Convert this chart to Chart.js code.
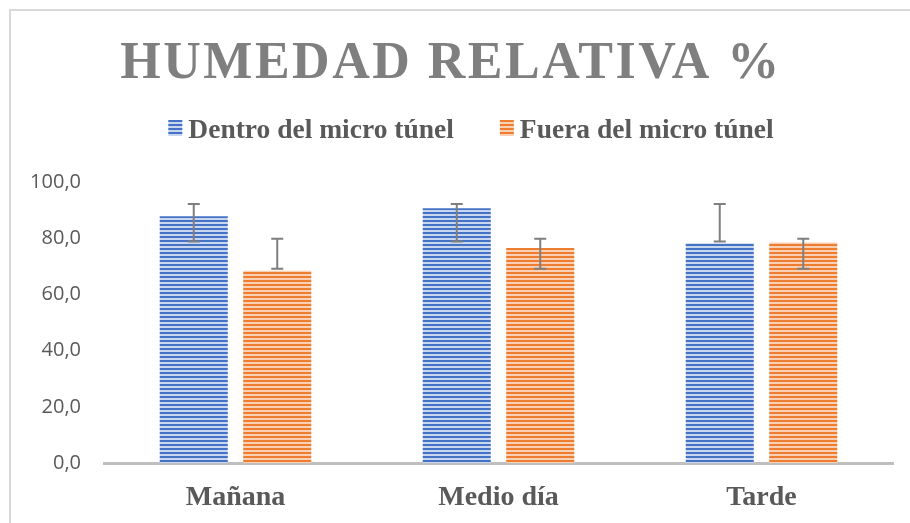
<!DOCTYPE html>
<html>
<head>
<meta charset="utf-8">
<script src="https://cdn.jsdelivr.net/npm/chart.js@4"></script>
<style>
  body { margin: 0; background: #fff; }
  #wrap { width: 910px; height: 523px; position: relative; }
</style>
</head>
<body>
<div id="wrap"><canvas id="chart" width="910" height="523"></canvas></div>
<script>
// Categories and series.
const categories = ['Mañana', 'Medio día', 'Tarde'];
const seriesNames = ['Dentro del micro túnel', 'Fuera del micro túnel'];
const dentro = [87.8, 90.7, 78.2];
const fuera = [68.4, 76.5, 78.5];
// Error bar ends (low / high) for each series.
const dentroLow = [78.8, 78.8, 78.8];
const dentroHigh = [92.2, 92.2, 92.2];
const fueraLow = [69.1, 69.1, 69.1];
const fueraHigh = [79.8, 79.8, 79.8];
const yTicks = [0, 20, 40, 60, 80, 100];

const titleText = 'HUMEDAD RELATIVA %';
const serif = '"Liberation Serif", "Times New Roman", serif';

// Horizontal stripe fill like the Excel pattern.
function makeStripes( dark, light ) {
    const c = document.createElement( 'canvas' );
    c.width = 4;
    c.height = 4;
    const g = c.getContext( '2d' );
    g.fillStyle = light;
    g.fillRect( 0, 0, 4, 4 );
    g.fillStyle = dark;
    g.fillRect( 0, 0, 4, 2 );
    return g.createPattern( c, 'repeat' );
}

const blueFill = makeStripes( '#4472C4', '#C9D6EF' );
const orangeFill = makeStripes( '#ED7D31', '#F9D0B3' );

// Frame around the whole chart.
const framePlugin = {
    id: 'frame',
    beforeDraw( chart ) {
        const ctx = chart.ctx;
        ctx.save();
        ctx.strokeStyle = '#D9D9D9';
        ctx.lineWidth = 2;
        ctx.strokeRect( 10, 10, chart.width + 10, chart.height + 10 );
        ctx.restore();
    }
};

// Letter-spaced title and the legend row (Excel style: small box, tight gap).
const headerPlugin = {
    id: 'header',
    afterDraw( chart ) {
        const ctx = chart.ctx;
        ctx.save();
        ctx.font = 'bold 52px ' + serif;
        ctx.letterSpacing = '2.5px';
        ctx.fillStyle = '#7F7F7F';
        ctx.textAlign = 'center';
        ctx.textBaseline = 'alphabetic';
        ctx.fillText( titleText, 451, 78 );
        ctx.restore();

        ctx.save();
        ctx.font = 'bold 27.5px ' + serif;
        ctx.textBaseline = 'alphabetic';
        const boxW = 14, boxH = 16, gap = 6, itemGap = 46;
        const items = chart.data.datasets.map( ds => ( {
            text: ds.label,
            fill: ds.backgroundColor,
            w: boxW + gap + ctx.measureText( ds.label ).width
        } ) );
        const total = items.reduce( ( s, it ) => s + it.w, 0 ) + itemGap * ( items.length - 1 );
        let x = 471 - total / 2;
        items.forEach( it => {
            ctx.fillStyle = it.fill;
            ctx.fillRect( x, 120, boxW, boxH );
            ctx.fillStyle = '#595959';
            ctx.fillText( it.text, x + boxW + gap, 137.5 );
            x += it.w + itemGap;
        });
        ctx.restore();
    }
};

// Error bars drawn from the value arrays through the y scale.
const errorPlugin = {
    id: 'errorBars',
    afterDatasetsDraw( chart ) {
        const ctx = chart.ctx;
        const y = chart.scales.y;
        const lows = [dentroLow, fueraLow];
        const highs = [dentroHigh, fueraHigh];
        ctx.save();
        ctx.strokeStyle = '#7F7F7F';
        ctx.lineWidth = 2;
        chart.data.datasets.forEach( ( ds, di ) => {
            chart.getDatasetMeta( di ).data.forEach( ( bar, i ) => {
                const top = y.getPixelForValue( highs[di][i] );
                const bot = y.getPixelForValue( lows[di][i] );
                ctx.beginPath();
                ctx.moveTo( bar.x, top );
                ctx.lineTo( bar.x, bot );
                ctx.moveTo( bar.x - 6, top );
                ctx.lineTo( bar.x + 6, top );
                ctx.moveTo( bar.x - 6, bot );
                ctx.lineTo( bar.x + 6, bot );
                ctx.stroke();
            });
        });
        ctx.restore();
    }
};

new Chart( document.getElementById( 'chart' ), {
    type: 'bar',
    data: {
        labels: categories,
        datasets: [{
            label: seriesNames[0],
            data: dentro,
            backgroundColor: blueFill,
            borderWidth: 0
        }, {
            label: seriesNames[1],
            data: fuera,
            backgroundColor: orangeFill,
            borderWidth: 0
        }]
    },
    options: {
        responsive: false,
        animation: false,
        datasets: {
            bar: { categoryPercentage: 0.635, barPercentage: 0.815 }
        },
        layout: { padding: { top: 182, right: 17, bottom: 0, left: 0 } },
        plugins: {
            title: { display: false },
            tooltip: { enabled: false },
            legend: { display: false }
        },
        scales: {
            x: {
                grid: { drawOnChartArea: false, drawTicks: false },
                border: { color: '#BFBFBF', width: 3 },
                ticks: {
                    color: '#595959',
                    padding: 18,
                    font: { family: serif, size: 28, weight: 'bold' }
                },
                afterFit( scale ) { scale.height = 60; }
            },
            y: {
                min: 0,
                max: 100,
                afterBuildTicks( scale ) { scale.ticks = yTicks.map( v => ( { value: v } ) ); },
                grid: { display: false, drawTicks: false },
                border: { display: false },
                ticks: {
                    color: '#595959',
                    padding: 23,
                    font: { family: '"Open Sans", sans-serif', size: 20 },
                    callback: v => v.toFixed( 1 ).replace( '.', ',' )
                },
                afterFit( scale ) { scale.width = 104; }
            }
        }
    },
    plugins: [framePlugin, headerPlugin, errorPlugin]
});
</script>
</body>
</html>
